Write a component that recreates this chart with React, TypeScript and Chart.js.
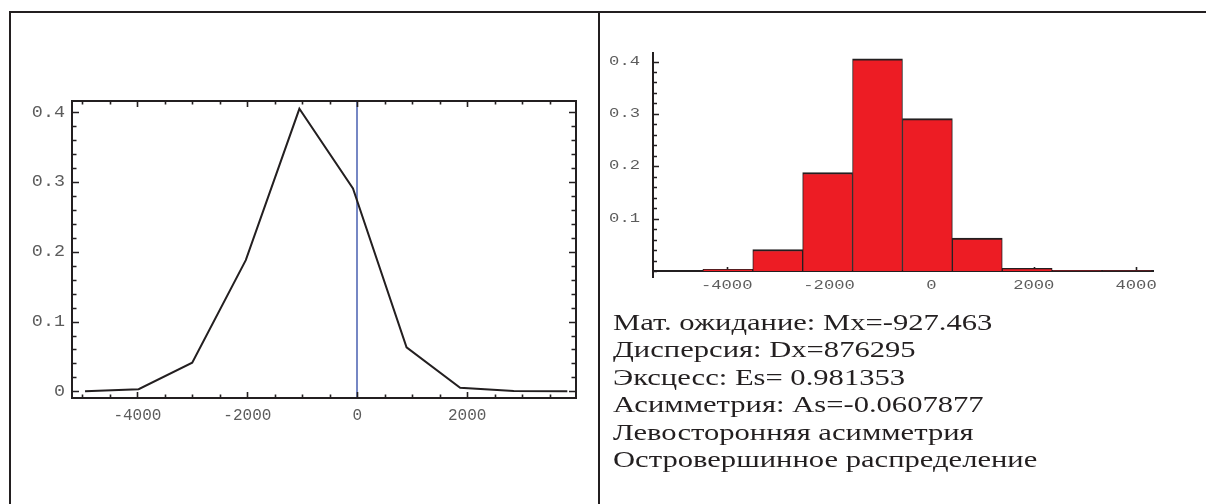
import { useEffect, useRef } from 'react';
import { Chart, registerables } from 'chart.js';

Chart.register(...registerables);

// Centers of the histogram bins (equal width) and relative frequencies
const binCenters = [-4953, -3978, -3003, -2028, -1053, -78, 897, 1872, 2847, 3822];
const frequencies = [0, 0.003, 0.041, 0.188, 0.405, 0.291, 0.063, 0.005, 0.0006, 0.0002];

// Vertical reference line on the polygon plot
const zeroMarker = 0;

// Labelled ticks
const xTickValues = [-4000, -2000, 0, 2000];
const xHistTickValues = [-4000, -2000, 0, 2000, 4000];
const yTickValues = [0, 0.1, 0.2, 0.3, 0.4];
const yHistTickValues = [0.1, 0.2, 0.3, 0.4];

// Minor tick steps
const xMinorStep = 500;
const yMinorStep = 0.02;

const statsLines = [
  'Мат. ожидание: Mx=-927.463',
  'Дисперсия: Dx=876295',
  'Эксцесс: Es= 0.981353',
  'Асимметрия: As=-0.0607877',
  'Левосторонняя асимметрия',
  'Островершинное распределение',
];

const INK = '#231f20';
const LABEL = '#5c5c5c';

const fmt = (v: number) => (v === 0 ? '0' : Number.isInteger(v) ? String(v) : v.toFixed(1));

function drawText(
  ctx: CanvasRenderingContext2D,
  text: string,
  x: number,
  y: number,
  align: CanvasTextAlign,
  baseline: CanvasTextBaseline,
  font: string,
  sx: number,
) {
  ctx.save();
  ctx.font = font;
  ctx.fillStyle = LABEL;
  ctx.textAlign = align;
  ctx.textBaseline = baseline;
  ctx.translate(x, y);
  ctx.scale(sx, 1);
  ctx.fillText(text, 0, 0);
  ctx.restore();
}

function stepValues(min: number, max: number, step: number) {
  const out: number[] = [];
  const start = Math.ceil(min / step - 1e-9);
  const end = Math.floor(max / step + 1e-9);
  for (let k = start; k <= end; k++) out.push(+(k * step).toFixed(6));
  return out;
}

const isLabelled = (v: number, list: number[]) => list.some((t) => Math.abs(t - v) < 1e-6);

const fixedTicks = (values: number[]) => (s: any) => {
  s.ticks = values.map((value) => ({ value }));
};

// Framed polygon plot: frame with inward ticks on all sides, zero line, labels
const polygonFrame = {
  id: 'polygonFrame',
  beforeDatasetsDraw(chart: any) {
    const { ctx, chartArea: a, scales } = chart;
    const px = Math.round(scales.x.getPixelForValue(zeroMarker));
    ctx.save();
    ctx.strokeStyle = '#7687c4';
    ctx.lineWidth = 2;
    ctx.beginPath();
    ctx.moveTo(px, a.top);
    ctx.lineTo(px, a.bottom);
    ctx.stroke();
    ctx.restore();
  },
  afterDatasetsDraw(chart: any) {
    const { ctx, chartArea: a, scales } = chart;
    const { x, y } = scales;
    ctx.save();
    ctx.strokeStyle = INK;
    ctx.lineWidth = 2;
    ctx.strokeRect(a.left, a.top, a.right - a.left, a.bottom - a.top);
    ctx.lineWidth = 1.6;
    ctx.beginPath();
    for (const v of stepValues(x.min, x.max, xMinorStep)) {
      const p = Math.round(x.getPixelForValue(v)) + 0.5;
      const len = isLabelled(v, xTickValues) ? 6 : 3.5;
      ctx.moveTo(p, a.bottom);
      ctx.lineTo(p, a.bottom - len);
      ctx.moveTo(p, a.top);
      ctx.lineTo(p, a.top + len);
    }
    for (const v of stepValues(y.min, y.max, yMinorStep)) {
      const p = Math.round(y.getPixelForValue(v)) + 0.5;
      const len = isLabelled(v, yTickValues) ? 7 : 4.5;
      ctx.moveTo(a.left, p);
      ctx.lineTo(a.left + len, p);
      ctx.moveTo(a.right, p);
      ctx.lineTo(a.right - len, p);
    }
    ctx.stroke();
    ctx.restore();

    const font = '16px "Liberation Mono", monospace';
    for (const t of x.ticks) {
      drawText(ctx, fmt(t.value), x.getPixelForValue(t.value), a.bottom + 22, 'center', 'alphabetic', font, 1);
    }
    for (const t of y.ticks) {
      drawText(ctx, fmt(t.value), a.left - 7, y.getPixelForValue(t.value), 'right', 'middle', font, 1.15);
    }
  },
};

// Histogram axes: inward ticks and stretched tick labels
const histogramAxes = {
  id: 'histogramAxes',
  beforeDatasetsDraw(chart: any) {
    const { ctx, scales } = chart;
    const { x, y } = scales;
    const base = Math.round(y.getPixelForValue(0));
    ctx.save();
    ctx.strokeStyle = INK;
    ctx.lineWidth = 1.6;
    ctx.beginPath();
    for (const t of x.ticks) {
      const p = Math.round(x.getPixelForValue(t.value)) + 0.5;
      ctx.moveTo(p, base);
      ctx.lineTo(p, base - 4);
    }
    ctx.stroke();
    ctx.restore();
  },
  afterDraw(chart: any) {
    const { ctx, chartArea: a, scales } = chart;
    const { x, y } = scales;
    ctx.save();
    ctx.strokeStyle = INK;
    ctx.lineWidth = 1.6;
    ctx.beginPath();
    for (const v of stepValues(0, y.max, yMinorStep)) {
      const p = Math.round(y.getPixelForValue(v)) + 0.5;
      const len = isLabelled(v, yHistTickValues) ? 6 : 4;
      ctx.moveTo(a.left, p);
      ctx.lineTo(a.left + len, p);
    }
    ctx.stroke();
    ctx.restore();

    const font = '12px "Liberation Mono", monospace';
    const base = y.getPixelForValue(0);
    for (const t of x.ticks) {
      drawText(ctx, fmt(t.value), x.getPixelForValue(t.value), base + 18, 'center', 'alphabetic', font, 1.43);
    }
    for (const t of y.ticks) {
      drawText(ctx, fmt(t.value), a.left - 13, y.getPixelForValue(t.value), 'right', 'middle', font, 1.43);
    }
  },
};

const hiddenGrid = { display: false, drawTicks: false };

export default function App() {
  const leftRef = useRef<HTMLCanvasElement>(null);
  const rightRef = useRef<HTMLCanvasElement>(null);

  useEffect(() => {
    const polygon = new Chart(leftRef.current as HTMLCanvasElement, {
      type: 'line',
      data: {
        datasets: [
          {
            data: binCenters.map((x, i) => ({ x, y: frequencies[i] })),
            borderColor: INK,
            borderWidth: 2,
            pointRadius: 0,
            tension: 0,
            fill: false,
          },
        ],
      },
      options: {
        animation: false,
        responsive: false,
        devicePixelRatio: 1,
        layout: { padding: { left: 0, top: 101, right: 22, bottom: 0 } },
        plugins: { legend: { display: false }, tooltip: { enabled: false } },
        scales: {
          x: {
            type: 'linear',
            min: -5190,
            max: 3980,
            ticks: { display: false },
            grid: hiddenGrid,
            border: { display: false },
            afterBuildTicks: fixedTicks(xTickValues),
            afterFit: (s: any) => {
              s.height = 106;
            },
          },
          y: {
            type: 'linear',
            min: -0.0096,
            max: 0.4162,
            ticks: { display: false },
            grid: hiddenGrid,
            border: { display: false },
            afterBuildTicks: fixedTicks(yTickValues),
            afterFit: (s: any) => {
              s.width = 72;
            },
          },
        },
      },
      plugins: [polygonFrame],
    } as any);

    const histogram = new Chart(rightRef.current as HTMLCanvasElement, {
      type: 'bar',
      data: {
        datasets: [
          {
            data: binCenters.map((x, i) => ({ x, y: frequencies[i] })),
            backgroundColor: '#ed1c24',
            borderColor: INK,
            borderWidth: { top: 2, left: 1, right: 1, bottom: 0 },
            borderSkipped: false,
            barPercentage: 1,
            categoryPercentage: 1,
          },
        ],
      },
      options: {
        animation: false,
        responsive: false,
        devicePixelRatio: 1,
        layout: { padding: { left: 0, top: 53, right: 53, bottom: 227 } },
        plugins: { legend: { display: false }, tooltip: { enabled: false } },
        scales: {
          x: {
            type: 'linear',
            position: { y: 0 },
            offset: false,
            min: -5440,
            max: 4330,
            ticks: { display: false },
            grid: hiddenGrid,
            border: { display: true, color: INK, width: 2 },
            afterBuildTicks: fixedTicks(xHistTickValues),
            afterFit: (s: any) => {
              s.height = 0;
            },
          },
          y: {
            type: 'linear',
            min: -0.0115,
            max: 0.4163,
            ticks: { display: false },
            grid: hiddenGrid,
            border: { display: true, color: INK, width: 2 },
            afterBuildTicks: fixedTicks(yHistTickValues),
            afterFit: (s: any) => {
              s.width = 53;
            },
          },
        },
      },
      plugins: [histogramAxes],
    } as any);

    return () => {
      polygon.destroy();
      histogram.destroy();
    };
  }, []);

  const line = (style: React.CSSProperties) => (
    <div style={{ position: 'absolute', background: INK, ...style }} />
  );

  return (
    <div
      style={{
        position: 'absolute',
        left: 0,
        top: 0,
        width: 1206,
        height: 504,
        background: '#fff',
        overflow: 'hidden',
      }}
    >
      <canvas
        ref={leftRef}
        width={598}
        height={504}
        style={{ position: 'absolute', left: 0, top: 0, width: 598, height: 504 }}
      />
      <canvas
        ref={rightRef}
        width={606}
        height={504}
        style={{ position: 'absolute', left: 600, top: 0, width: 606, height: 504 }}
      />
      {line({ left: 9, top: 11, width: 1197, height: 2 })}
      {line({ left: 9, top: 11, width: 2, height: 493 })}
      {line({ left: 598, top: 11, width: 2, height: 493 })}
      <div
        style={{
          position: 'absolute',
          left: 613,
          top: 308.5,
          fontFamily: '"Liberation Serif", "Times New Roman", serif',
          fontSize: 23,
          lineHeight: '27.5px',
          color: INK,
          whiteSpace: 'nowrap',
          transform: 'scaleX(1.33)',
          transformOrigin: '0 0',
        }}
      >
        {statsLines.map((s) => (
          <div key={s}>{s}</div>
        ))}
      </div>
    </div>
  );
}
